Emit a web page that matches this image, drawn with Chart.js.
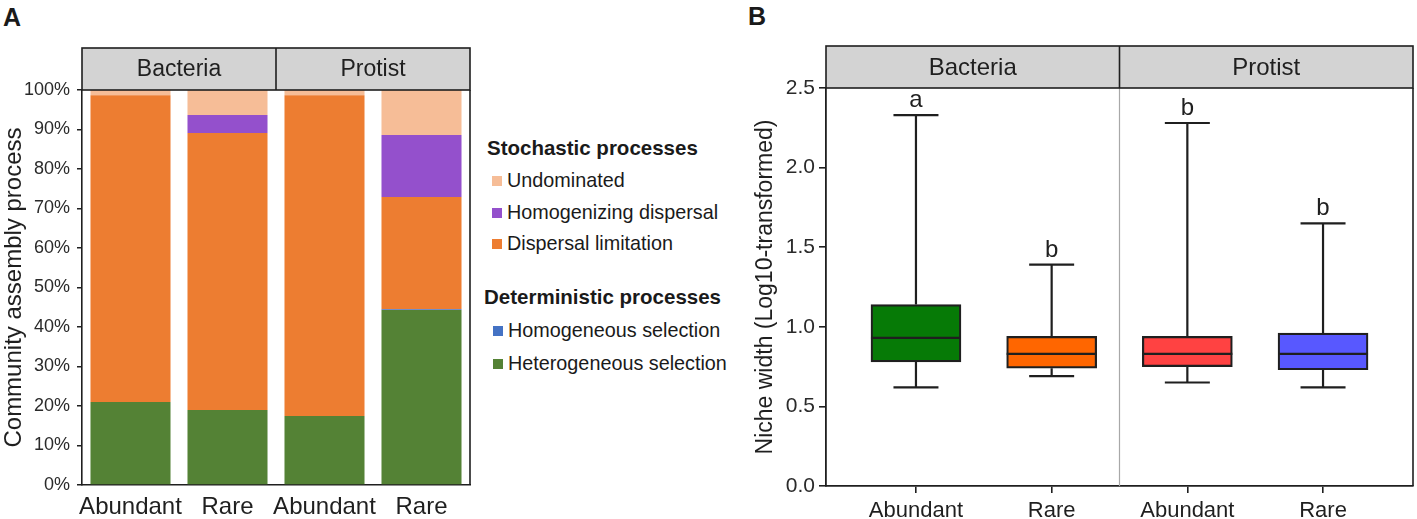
<!DOCTYPE html>
<html>
<head>
<meta charset="utf-8">
<script src="https://cdn.jsdelivr.net/npm/chart.js@4.4.1/dist/chart.umd.min.js"></script>
<style>
  body { margin: 0; background: #fff; width: 1417px; height: 519px; position: relative; overflow: hidden;
         font-family: "Liberation Sans", Arial, sans-serif; color: #1a1a1a; }
  canvas { position: absolute; top: 0; }
  #chartA { left: 0; }
  #chartB { left: 740px; }
  .panel { position: absolute; font-weight: bold; font-size: 25px; line-height: 1; }
  .lg-head { position: absolute; font-weight: bold; font-size: 20.5px; line-height: 24px; white-space: nowrap; }
  .lg-item { position: absolute; font-size: 19.8px; line-height: 24px; white-space: nowrap; }
  .lg-item i { display: inline-block; width: 10px; height: 10px; margin-right: 5px; vertical-align: 1px; }
</style>
</head>
<body>
<div class="panel" style="left:3px;top:5px">A</div>
<div class="panel" style="left:748px;top:4px">B</div>
<canvas id="chartA" width="480" height="519"></canvas>
<div id="legend"></div>
<canvas id="chartB" width="677" height="519"></canvas>

<script>
// ---- data ----
const groups = ['Bacteria', 'Protist'];
const sizeLabels = ['Abundant', 'Rare', 'Abundant', 'Rare'];

// panel A: community assembly process (%)
const heterogeneousSel = [21.0, 19.0, 17.5, 44.3];
const homogeneousSel = [0, 0, 0, 0.2];
const dispersalLim = [77.7, 70.1, 81.2, 28.4];
const homogenizingDisp = [0, 4.6, 0, 15.7];
const undominated = [1.3, 6.3, 1.3, 11.4];
const percentTicks = [0, 10, 20, 30, 40, 50, 60, 70, 80, 90, 100];

// panel B: niche width boxes
const whiskerLow = [0.62, 0.69, 0.65, 0.62];
const q1 = [0.78, 0.74, 0.75, 0.73];
const median = [0.93, 0.83, 0.83, 0.83];
const q3 = [1.14, 0.94, 0.94, 0.96];
const whiskerHigh = [2.33, 1.39, 2.28, 1.65];
const sigLetters = ['a', 'b', 'b', 'b'];
const boxColors = ['#067a06', '#ff6600', '#ff4242', '#5858ff'];

const FONT = '"Liberation Sans", Arial, sans-serif';
const INK = '#1f1f1f';

const seriesA = [
  { label: 'Heterogeneous selection', data: heterogeneousSel, color: '#548235', group: 'det' },
  { label: 'Homogeneous selection', data: homogeneousSel, color: '#4472c4', group: 'det' },
  { label: 'Dispersal limitation', data: dispersalLim, color: '#ed7d31', group: 'sto' },
  { label: 'Homogenizing dispersal', data: homogenizingDisp, color: '#9450cc', group: 'sto' },
  { label: 'Undominated', data: undominated, color: '#f6bd97', group: 'sto' }
];

// grey facet strips above the plot, plus the right frame line
const stripPlugin = {
  id: 'strips',
  beforeDatasetsDraw(chart, args, opts) {
    if (!opts.innerLine) return;
    const { ctx, chartArea: a, scales: { x } } = chart;
    const mid = opts.divideAt(x);
    ctx.save();
    ctx.strokeStyle = '#a8a8a8';
    ctx.lineWidth = 1.2;
    ctx.beginPath(); ctx.moveTo(mid, a.top); ctx.lineTo(mid, a.bottom); ctx.stroke();
    ctx.restore();
  },
  afterDraw(chart, args, opts) {
    const { ctx, chartArea: a, scales: { x } } = chart;
    const mid = opts.divideAt(x);
    const top = a.top - opts.height;
    ctx.save();
    ctx.fillStyle = '#d3d3d3';
    ctx.fillRect(a.left, top, a.right - a.left, opts.height);
    ctx.strokeStyle = INK;
    ctx.lineWidth = 1.6;
    ctx.strokeRect(a.left, top, a.right - a.left, opts.height);
    ctx.beginPath(); ctx.moveTo(mid, top); ctx.lineTo(mid, a.top); ctx.stroke();
    ctx.beginPath(); ctx.moveTo(a.right, a.top); ctx.lineTo(a.right, a.bottom); ctx.stroke();
    ctx.fillStyle = INK;
    ctx.font = opts.font;
    ctx.textAlign = 'center';
    ctx.textBaseline = 'middle';
    ctx.fillText(groups[0], (a.left + mid) / 2, top + opts.height / 2 + 1);
    ctx.fillText(groups[1], (mid + a.right) / 2, top + opts.height / 2 + 1);
    ctx.restore();
  }
};

// ---- panel A ----
new Chart(document.getElementById('chartA'), {
  type: 'bar',
  data: {
    labels: sizeLabels,
    datasets: seriesA.map(s => ({
      label: s.label,
      data: s.data,
      backgroundColor: s.color,
      borderWidth: 0,
      categoryPercentage: 1,
      barPercentage: 0.825
    }))
  },
  options: {
    responsive: false,
    animation: false,
    layout: { padding: { top: 90, right: 10, left: 0, bottom: 0 } },
    plugins: {
      legend: { display: false },
      tooltip: { enabled: false },
      strips: {
        height: 42,
        font: '23px ' + FONT,
        divideAt: x => (x.getPixelForValue(1) + x.getPixelForValue(2)) / 2
      }
    },
    scales: {
      x: {
        stacked: true,
        grid: { display: false, drawTicks: false },
        border: { display: true, color: INK, width: 1.6 },
        ticks: { color: INK, font: { family: FONT, size: 24 }, padding: 8, maxRotation: 0, autoSkip: false },
        afterFit: s => { s.height = 34; }
      },
      y: {
        stacked: true,
        min: 0,
        max: 100,
        afterBuildTicks: s => { s.ticks = percentTicks.map(v => ({ value: v })); },
        ticks: { color: '#2a2a2a', font: { family: FONT, size: 18 }, padding: 7, callback: v => v + '%' },
        grid: { drawOnChartArea: false, drawTicks: true, tickLength: 5, color: INK, lineWidth: 1.5 },
        border: { display: true, color: INK, width: 1.6 },
        title: { display: true, text: 'Community assembly process', color: INK,
                 font: { family: FONT, size: 24 }, padding: { top: 0, bottom: 0 } },
        afterFit: s => { s.width = 82; }
      }
    }
  },
  plugins: [stripPlugin]
});

// legend for panel A, built from the series list
const legendBox = document.getElementById('legend');
function addLegendHead(text, left, cy) {
  const d = document.createElement('div');
  d.className = 'lg-head';
  d.style.left = left + 'px';
  d.style.top = (cy - 12) + 'px';
  d.textContent = text;
  legendBox.appendChild(d);
}
function addLegendItem(s, left, cy) {
  const d = document.createElement('div');
  d.className = 'lg-item';
  d.style.left = left + 'px';
  d.style.top = (cy - 12) + 'px';
  const sw = document.createElement('i');
  sw.style.background = s.color;
  d.appendChild(sw);
  d.appendChild(document.createTextNode(s.label));
  legendBox.appendChild(d);
}
addLegendHead('Stochastic processes', 487, 148);
seriesA.filter(s => s.group === 'sto').reverse().forEach((s, i) => addLegendItem(s, 492, 180 + i * 31.5));
addLegendHead('Deterministic processes', 484, 297);
seriesA.filter(s => s.group === 'det').reverse().forEach((s, i) => addLegendItem(s, 493, 330 + i * 32.5));

// whiskers, caps, medians and letters for panel B
const boxPlugin = {
  id: 'boxExtras',
  beforeDatasetsDraw(chart) {
    const { ctx, scales: { x, y } } = chart;
    const bars = chart.getDatasetMeta(0).data;
    ctx.save();
    ctx.strokeStyle = INK;
    ctx.lineWidth = 2.2;
    q1.forEach((_, i) => {
      const cx = x.getPixelForValue(i);
      const cap = bars[i].width / 4;
      const hi = y.getPixelForValue(whiskerHigh[i]);
      const lo = y.getPixelForValue(whiskerLow[i]);
      ctx.beginPath();
      ctx.moveTo(cx, y.getPixelForValue(q3[i])); ctx.lineTo(cx, hi);
      ctx.moveTo(cx - cap, hi); ctx.lineTo(cx + cap, hi);
      ctx.moveTo(cx, y.getPixelForValue(q1[i])); ctx.lineTo(cx, lo);
      ctx.moveTo(cx - cap, lo); ctx.lineTo(cx + cap, lo);
      ctx.stroke();
    });
    ctx.restore();
  },
  afterDatasetsDraw(chart) {
    const { ctx, scales: { x, y } } = chart;
    const bars = chart.getDatasetMeta(0).data;
    ctx.save();
    ctx.strokeStyle = INK;
    ctx.lineWidth = 2.2;
    ctx.fillStyle = INK;
    ctx.font = '24px ' + FONT;
    ctx.textAlign = 'center';
    ctx.textBaseline = 'alphabetic';
    q1.forEach((_, i) => {
      const cx = x.getPixelForValue(i);
      const half = bars[i].width / 2;
      const m = y.getPixelForValue(median[i]);
      ctx.beginPath(); ctx.moveTo(cx - half, m); ctx.lineTo(cx + half, m); ctx.stroke();
      ctx.fillText(sigLetters[i], cx, y.getPixelForValue(whiskerHigh[i]) - 8);
    });
    ctx.restore();
  }
};

// ---- panel B ----
new Chart(document.getElementById('chartB'), {
  type: 'bar',
  data: {
    datasets: [{
      label: 'Niche width',
      data: q1.map((v, i) => ({ x: i, y: [v, q3[i]] })),
      backgroundColor: boxColors,
      borderColor: INK,
      borderWidth: 2.2,
      borderSkipped: false,
      barThickness: 90
    }]
  },
  options: {
    responsive: false,
    animation: false,
    layout: { padding: { top: 88, right: 4, left: 0, bottom: 0 } },
    plugins: {
      legend: { display: false },
      tooltip: { enabled: false },
      strips: {
        height: 42,
        font: '24px ' + FONT,
        innerLine: true,
        divideAt: x => x.getPixelForValue(1.5)
      }
    },
    scales: {
      x: {
        type: 'linear',
        min: -0.663,
        max: 3.663,
        offset: false,
        afterBuildTicks: s => { s.ticks = sizeLabels.map((_, i) => ({ value: i })); },
        ticks: { color: INK, font: { family: FONT, size: 22 }, padding: 5, maxRotation: 0, autoSkip: false,
                 callback: v => sizeLabels[v] },
        grid: { offset: false, drawOnChartArea: false, drawTicks: true, tickLength: 7, color: INK, lineWidth: 1.6 },
        border: { display: true, color: INK, width: 1.8 },
        afterFit: s => { s.height = 33; }
      },
      y: {
        min: 0,
        max: 2.5,
        ticks: { stepSize: 0.5, color: '#2a2a2a', font: { family: FONT, size: 21 }, padding: 4,
                 callback: v => v.toFixed(1) },
        grid: { drawOnChartArea: false, drawTicks: true, tickLength: 7, color: INK, lineWidth: 1.6 },
        border: { display: true, color: INK, width: 1.8 },
        title: { display: true, text: 'Niche width (Log10-transformed)', color: INK,
                 font: { family: FONT, size: 23 }, padding: { top: 12, bottom: 0 } },
        afterFit: s => { s.width = 86; }
      }
    }
  },
  plugins: [stripPlugin, boxPlugin]
});
</script>
</body>
</html>
